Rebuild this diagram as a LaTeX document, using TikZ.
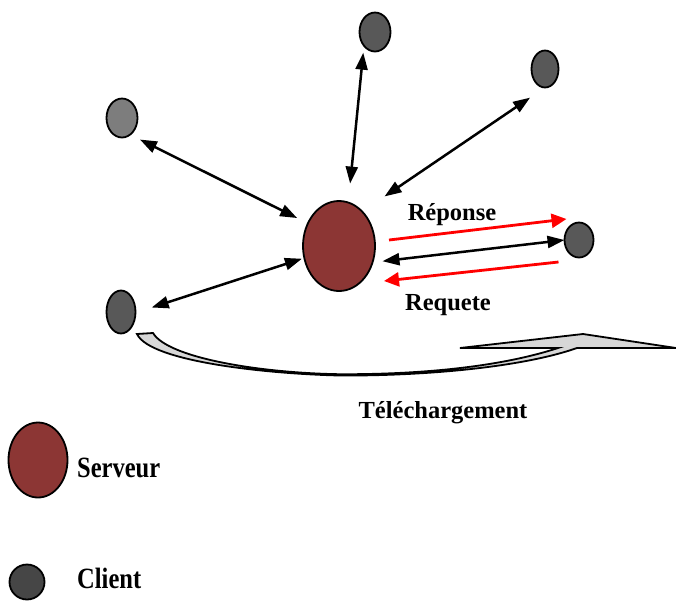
\documentclass[tikz,border=0pt]{standalone}
\usepackage{fontspec}
\setmainfont{Liberation Serif}
\usetikzlibrary{arrows.meta,shapes.geometric}

\definecolor{srvred}{RGB}{140,54,52}
\definecolor{cligray}{RGB}{88,88,88}
\definecolor{cliltgray}{RGB}{125,125,125}
\definecolor{clidark}{RGB}{70,70,70}
\definecolor{bandgray}{RGB}{215,215,215}

\begin{document}
\begin{tikzpicture}[x=1pt,y=-1pt,
  host/.style={ellipse, draw=black, line width=1.8pt, inner sep=0pt, outer sep=0pt},
  server/.style={host, fill=srvred},
  client/.style={host, fill=cligray},
  link/.style={line width=2.5pt, {Triangle[length=17pt,width=12pt]}-{Triangle[length=17pt,width=12pt]}},
  flow/.style={line width=2.8pt, red, -{Triangle[length=15pt,width=14pt]}},
  lbl/.style={font=\fontsize{24.5}{28}\selectfont\bfseries, inner sep=0pt, anchor=base},
  legend/.style={font=\fontsize{24.5}{28}\selectfont\bfseries, inner sep=0pt, anchor=base west, yscale=1.2}]
\useasboundingbox (0,0) rectangle (676,603);

% hosts of the network
\node[server, minimum width=72pt, minimum height=90pt] (s) at (339,246) {};
\node[client, fill=cliltgray, minimum width=31pt, minimum height=39pt] (c1) at (122,118) {};
\node[client, minimum width=31pt, minimum height=39pt] (c2) at (375,32) {};
\node[client, minimum width=27pt, minimum height=37pt] (c3) at (545,69) {};
\node[client, minimum width=29pt, minimum height=43pt] (c4) at (121,312) {};
\node[client, minimum width=29pt, minimum height=35pt] (c5) at (579,240) {};

% two-way links between server and clients
\draw[link, shorten <=12pt, shorten >=11pt] (s.144) -- (c1.-64.6);
\draw[link, shorten <=19pt, shorten >=7pt] (s.78.3) -- (c2.-129);
\draw[link, shorten <=27pt, shorten >=18pt] (s.56) -- (c3.-90);
\draw[link, shorten <=2.5pt, shorten >=17pt] (s.-161) -- (c4.-3);
\draw[link, shorten <=10pt] (s.-26.4) -- (c5.west);

% request / response flows
\draw[flow] ([shift={(14,-6)}]s.east) -- ([shift={(2,-21)}]c5.west);
\draw[flow] ([shift={(-6,22)}]c5.west) -- ([shift={(9,35)}]s.east);

\node[lbl] (rep) at (452,220) {Réponse};
\node[lbl] (req) at (448,310) {Requete};

% download: curved-up block arrow leaving the lower-left client
\draw[line width=1.8pt, fill=bandgray, line join=miter]
  (137,334) .. controls (150,362) and (270,374) .. (340,375.5)
  .. controls (420,376) and (520,368) .. (577,348)
  -- (676,348) -- (583,334) -- (460,348) -- (558,348)
  .. controls (500,367) and (420,374.5) .. (340,374.2)
  .. controls (260,373) and (168,358) .. (153,333) -- cycle;
\node[lbl] (dl) at (443,418) {Téléchargement};

% legend
\node[server, minimum width=59pt, minimum height=75pt] (ks) at (38,460) {};
\node[legend] (kst) at (77,477) {Serveur};
\node[client, fill=clidark, minimum width=35pt, minimum height=35pt] (kc) at (27,582) {};
\node[legend] (kct) at (77,588) {Client};
\end{tikzpicture}
\end{document}
